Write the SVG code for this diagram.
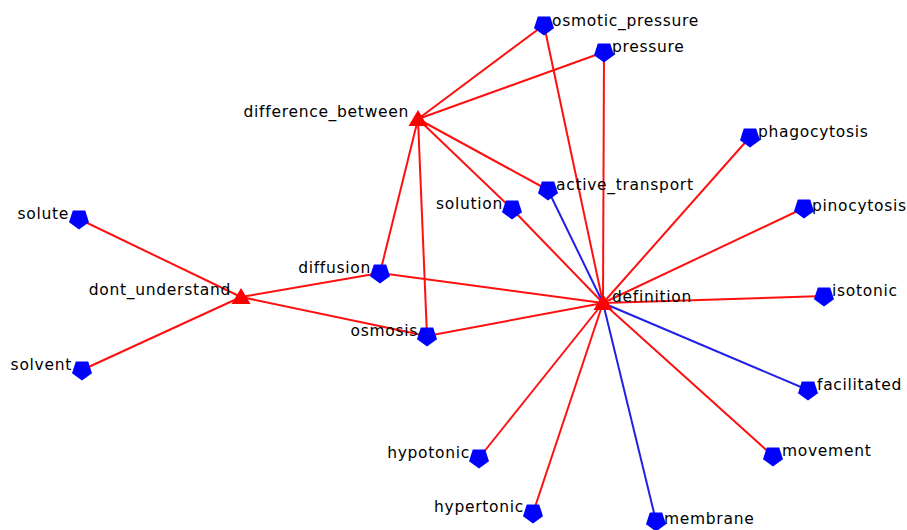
<svg xmlns="http://www.w3.org/2000/svg" width="907" height="530" viewBox="0 0 907 530">
<defs>
<style>
.e{stroke:#ff1010;stroke-width:2;fill:none}
.b{stroke:#2020e8;stroke-width:2;fill:none}
.p{fill:#0000ff}
.t{fill:#ff0000}
text{font-family:"DejaVu Sans",sans-serif;font-size:15.5px;letter-spacing:0.7px;fill:#000}
.r{text-anchor:end}
</style>
<polygon id="pent" points="0,10.5 10,3.2 6.2,-8.5 -6.2,-8.5 -10,3.2"/>
<polygon id="tri" points="0,-9 9.5,7 -9.5,7"/>
</defs>
<rect width="907" height="530" fill="#fff"/>
<g id="connectors">
<line class="e" x1="418" y1="119" x2="544" y2="25"/>
<line class="e" x1="418" y1="119" x2="604" y2="52"/>
<line class="e" x1="418" y1="119" x2="548" y2="190"/>
<line class="e" x1="418" y1="119" x2="512" y2="209"/>
<line class="e" x1="418" y1="119" x2="380" y2="273"/>
<line class="e" x1="418" y1="119" x2="427" y2="336"/>
<line class="e" x1="544" y1="25" x2="603" y2="303"/>
<line class="e" x1="604" y1="52" x2="603" y2="303"/>
<line class="b" x1="548" y1="190" x2="603" y2="303"/>
<line class="e" x1="512" y1="209" x2="603" y2="303"/>
<line class="e" x1="750" y1="137" x2="603" y2="303"/>
<line class="e" x1="804" y1="208" x2="603" y2="303"/>
<line class="e" x1="824" y1="296" x2="603" y2="303"/>
<line class="b" x1="808" y1="390" x2="603" y2="303"/>
<line class="e" x1="773" y1="456" x2="603" y2="303"/>
<line class="b" x1="656" y1="521" x2="603" y2="303"/>
<line class="e" x1="533" y1="513" x2="603" y2="303"/>
<line class="e" x1="479" y1="458" x2="603" y2="303"/>
<line class="e" x1="380" y1="273" x2="603" y2="303"/>
<line class="e" x1="427" y1="336" x2="603" y2="303"/>
<line class="e" x1="241" y1="297" x2="79" y2="219"/>
<line class="e" x1="241" y1="297" x2="82" y2="370"/>
<line class="e" x1="241" y1="297" x2="380" y2="273"/>
<line class="e" x1="241" y1="297" x2="427" y2="336"/>
</g>
<g id="difference_between"><use href="#tri" class="t" x="418" y="119"/><text class="r" x="409" y="117">difference_between</text></g>
<g id="dont_understand"><use href="#tri" class="t" x="241" y="297"/><text class="r" x="231" y="295">dont_understand</text></g>
<g id="definition"><use href="#tri" class="t" x="603" y="303"/><text x="612" y="302">definition</text></g>
<g id="osmotic_pressure"><use href="#pent" class="p" x="544" y="25"/><text x="552" y="26">osmotic_pressure</text></g>
<g id="pressure"><use href="#pent" class="p" x="604" y="52"/><text x="612" y="52">pressure</text></g>
<g id="phagocytosis"><use href="#pent" class="p" x="750" y="137"/><text x="758" y="137">phagocytosis</text></g>
<g id="active_transport"><use href="#pent" class="p" x="548" y="190"/><text x="556" y="190">active_transport</text></g>
<g id="solution"><use href="#pent" class="p" x="512" y="209"/><text class="r" x="503" y="209">solution</text></g>
<g id="pinocytosis"><use href="#pent" class="p" x="804" y="208"/><text x="812" y="211">pinocytosis</text></g>
<g id="solute"><use href="#pent" class="p" x="79" y="219"/><text class="r" x="69" y="219">solute</text></g>
<g id="diffusion"><use href="#pent" class="p" x="380" y="273"/><text class="r" x="371" y="273">diffusion</text></g>
<g id="isotonic"><use href="#pent" class="p" x="824" y="296"/><text x="832" y="296">isotonic</text></g>
<g id="osmosis"><use href="#pent" class="p" x="427" y="336"/><text class="r" x="418" y="336">osmosis</text></g>
<g id="solvent"><use href="#pent" class="p" x="82" y="370"/><text class="r" x="72" y="370">solvent</text></g>
<g id="facilitated"><use href="#pent" class="p" x="808" y="390"/><text x="817" y="390">facilitated</text></g>
<g id="hypotonic"><use href="#pent" class="p" x="479" y="458"/><text class="r" x="470" y="458">hypotonic</text></g>
<g id="movement"><use href="#pent" class="p" x="773" y="456"/><text x="782" y="456">movement</text></g>
<g id="hypertonic"><use href="#pent" class="p" x="533" y="513"/><text class="r" x="524" y="512">hypertonic</text></g>
<g id="membrane"><use href="#pent" class="p" x="656" y="521"/><text x="664" y="524">membrane</text></g>
</svg>
